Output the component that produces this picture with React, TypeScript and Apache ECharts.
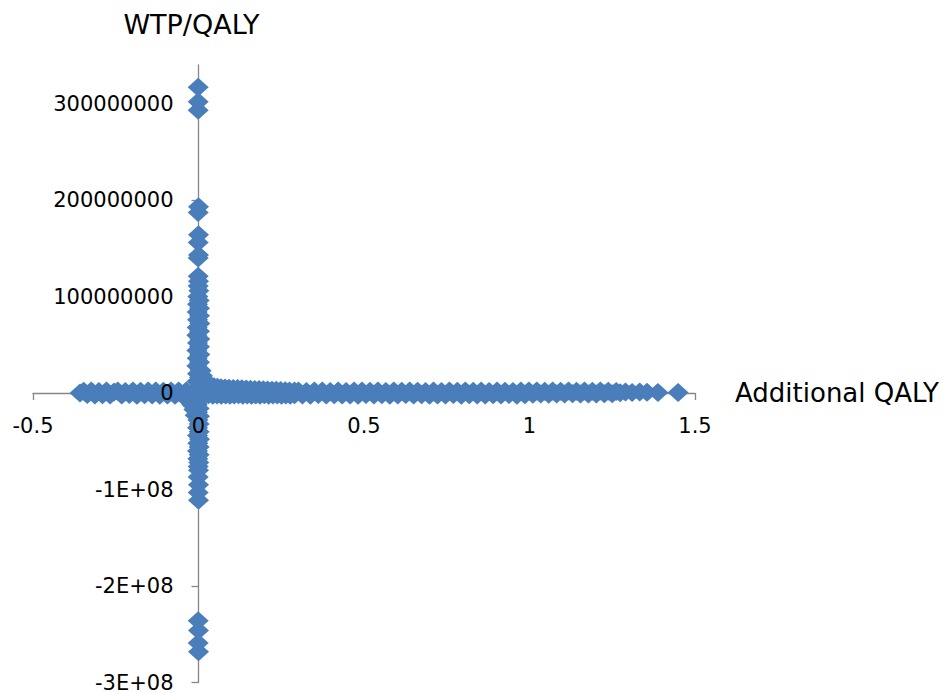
import React, { useEffect, useRef } from "react";
import * as echarts from "echarts";

// Points: [Additional QALY, WTP/QALY in millions]
const leftBand: [number, number][] = [
  [-0.358, 0], [-0.347, 1.8], [-0.336, -1.6], [-0.324, 2.0], [-0.313, -2.0], [-0.301, 1.5], [-0.29, -1.8], [-0.278, 2.1], [-0.267, -1.9], [-0.255, 1.2],
  [-0.244, 2.2], [-0.232, -2.1], [-0.221, 1.7], [-0.209, -1.5], [-0.198, 2.0], [-0.186, -2.2], [-0.175, 1.9], [-0.163, -1.7], [-0.152, 2.2], [-0.14, -2.0],
  [-0.129, 2.1], [-0.117, -2.2], [-0.106, 1.9], [-0.094, -2.1], [-0.083, 2.2], [-0.071, -2.3], [-0.06, 2.1], [-0.048, -2.4], [-0.037, 2.0], [-0.026, -2.5], [-0.015, 2.2],
  [-0.045, -3], [-0.035, -5], [-0.027, -8], [-0.02, -12], [-0.014, -17], [-0.01, -23],
];

const nearRight: [number, number][] = [
  [0.008, 23], [0.012, 18], [0.017, 14], [0.023, 11], [0.03, 9], [0.038, 7.5], [0.047, 6.5], [0.057, 6], [0.068, 5.6], [0.08, 5.3],
  [0.092, 5], [0.105, 4.8], [0.118, 4.6], [0.131, 4.4], [0.144, 4.2], [0.157, 4.0], [0.17, 3.8], [0.183, 3.6], [0.196, 3.4], [0.209, 3.2],
  [0.222, 3.0], [0.235, 2.8], [0.248, 2.6], [0.262, 2.4], [0.275, 2.2], [0.29, 2.1],
  [0.005, -2.0], [0.017, -2.3], [0.03, -1.8], [0.043, -2.4], [0.056, -2.0], [0.069, -2.3], [0.082, -1.9], [0.095, -2.4], [0.108, -2.1], [0.121, -1.8],
  [0.134, -2.3], [0.147, -2.0], [0.16, -2.4], [0.173, -1.9], [0.186, -2.2], [0.199, -1.8], [0.212, -2.4], [0.225, -2.1], [0.238, -1.9], [0.251, -2.3],
  [0.264, -2.0], [0.277, -2.2], [0.29, -1.8],
];

const rightBand: [number, number][] = [
  [0.302, 2.0], [0.314, -1.9], [0.326, 1.7], [0.338, -2.2], [0.35, 2.1], [0.362, -1.6], [0.374, 2.2], [0.386, -2.0], [0.398, 1.5], [0.41, -1.8],
  [0.422, 2.1], [0.434, -2.1], [0.446, 1.7], [0.458, -1.9], [0.47, 2.0], [0.482, -2.3], [0.494, 2.1], [0.506, -1.5], [0.518, 1.9], [0.53, -2.0],
  [0.542, 2.2], [0.554, -1.7], [0.566, 1.6], [0.578, -2.2], [0.59, 2.0], [0.602, -1.9], [0.614, 1.8], [0.626, -1.6], [0.638, 2.1], [0.65, -2.1],
  [0.662, 1.9], [0.674, -1.8], [0.686, 1.5], [0.698, -2.3], [0.71, 2.0], [0.722, -1.9], [0.734, 1.7], [0.746, -2.0], [0.758, 2.2], [0.77, -1.6],
  [0.782, 1.9], [0.794, -2.2], [0.806, 2.0], [0.818, -1.7], [0.83, 1.8], [0.842, -2.1], [0.854, 2.1], [0.866, -1.9], [0.878, 1.6], [0.89, -1.8],
  [0.902, 2.0], [0.914, -2.0], [0.926, 1.9], [0.938, -1.5], [0.95, 1.7], [0.962, -2.2], [0.974, 2.2], [0.986, -1.8], [0.998, 2.0], [1.01, -1.2],
  [1.022, 2.1], [1.034, -1.0], [1.046, 1.9], [1.058, -1.2], [1.07, 2.2], [1.082, -0.9], [1.094, 1.8], [1.106, -1.1], [1.118, 2.0], [1.13, -0.8],
  [1.142, 1.9], [1.154, -1.0], [1.166, 2.1], [1.178, -0.9], [1.19, 1.8], [1.202, -1.1], [1.214, 2.0], [1.226, -0.8], [1.238, 1.9], [1.25, -0.6],
  [1.262, 1.6], [1.274, 0.4], [1.29, 1.2], [1.31, 0.5], [1.333, 1.0], [1.355, 0.7], [1.388, 0.6], [1.449, 0.6],
];

const upperBand: [number, number][] = [
  [-0.004, 4], [0.004, 8], [-0.005, 12], [0.003, 16], [-0.003, 20], [0.005, 24], [-0.005, 28], [0.003, 32], [-0.004, 36], [0.004, 40],
  [-0.005, 44], [0.003, 48], [-0.003, 52], [0.004, 56], [-0.005, 60], [0.003, 64], [-0.004, 68], [0.004, 72], [-0.003, 76], [0.003, 80],
  [-0.004, 84], [0.003, 88], [-0.003, 92], [0.002, 96], [-0.002, 100], [0.001, 106], [-0.001, 111], [0.0, 116], [-0.001, 121],
  [-0.001, 140], [0.0, 143], [-0.001, 156], [0.0, 164], [-0.001, 187], [0.0, 193],
  [-0.001, 293], [-0.001, 302], [-0.001, 317],
];

const lowerBand: [number, number][] = [
  [-0.003, -4], [0.003, -8], [-0.004, -12], [0.002, -16], [-0.003, -20], [0.003, -24], [-0.002, -28], [0.002, -32], [-0.003, -36], [0.002, -40],
  [-0.003, -44], [0.003, -48], [-0.002, -52], [0.002, -56], [-0.003, -60], [0.002, -64], [-0.002, -68], [0.001, -72], [-0.001, -76],
  [0.0, -80], [-0.001, -87], [0.0, -95], [-0.001, -103], [0.0, -111],
  [-0.001, -236], [0.0, -246], [-0.001, -259], [0.0, -268],
];

const xTicks = [-0.5, 0, 0.5, 1, 1.5];
const yTicks = [-3e8, -2e8, -1e8, 0, 1e8, 2e8, 3e8];

const FONT = "DejaVu Sans";
const BLUE = "#4A7EBB";
const AXIS = "#868686";

const X_MIN = -0.5, X_MAX = 1.5, Y_MIN = -3e8, Y_MAX = 3.4e8;
const G_LEFT = 33, G_RIGHT = 253, G_TOP = 65, G_BOTTOM = 10.5, W = 948, H = 693;

function yFmt(v: number) {
  if (v < 0) return `${v / 1e8}E+08`;
  return String(v);
}

export default function App() {
  const ref = useRef<HTMLDivElement>(null);
  useEffect(() => {
    if (!ref.current) return;
    const chart = echarts.init(ref.current, undefined, { renderer: "svg" });
    const data = [...leftBand, ...nearRight, ...rightBand, ...upperBand, ...lowerBand].map(([x, y]) => [x, y * 1e6]);
    const gw = W - G_LEFT - G_RIGHT;
    const gh = H - G_TOP - G_BOTTOM;
    // offsets that bring the label-only axes onto the zero lines
    const xOff = -(gh * (0 - Y_MIN)) / (Y_MAX - Y_MIN);
    const yOff = -(gw * (0 - X_MIN)) / (X_MAX - X_MIN);
    const xBase = { type: "value", min: X_MIN, max: X_MAX, interval: 0.5, splitLine: { show: false } };
    const yBase = { type: "value", min: Y_MIN, max: Y_MAX, interval: 1e8, splitLine: { show: false } };
    chart.setOption({
      animation: false,
      grid: { left: G_LEFT, right: G_RIGHT, top: G_TOP, bottom: G_BOTTOM, containLabel: false, outerBoundsMode: "none" },
      xAxis: [
        {
          ...xBase,
          z: 0,
          axisLine: { show: true, onZero: true, lineStyle: { color: AXIS, width: 1.3 } },
          axisTick: { show: true, length: 7, lineStyle: { color: AXIS, width: 1.3 }, customValues: xTicks },
          axisLabel: { show: false },
          name: "Additional QALY",
          nameLocation: "end",
          nameGap: 40,
          nameTextStyle: { fontFamily: FONT, fontSize: 26, color: "#000", verticalAlign: "middle" },
        },
        {
          ...xBase,
          z: 10,
          position: "bottom",
          offset: xOff,
          axisLine: { show: false, onZero: false },
          axisTick: { show: false },
          axisLabel: { show: true, margin: 22, fontFamily: FONT, fontSize: 21, color: "#000", customValues: xTicks, formatter: (v: number) => String(v) },
        },
      ],
      yAxis: [
        {
          ...yBase,
          z: 0,
          axisLine: { show: true, onZero: true, lineStyle: { color: AXIS, width: 1.3 } },
          axisTick: { show: true, length: 7, lineStyle: { color: AXIS, width: 1.3 }, customValues: yTicks },
          axisLabel: { show: false },
          name: "WTP/QALY",
          nameLocation: "end",
          nameGap: 27,
          nameTextStyle: { fontFamily: FONT, fontSize: 27, color: "#000", padding: [0, 14, 0, 0] },
        },
        {
          ...yBase,
          z: 10,
          position: "left",
          offset: yOff,
          axisLine: { show: false, onZero: false },
          axisTick: { show: false },
          axisLabel: {
            show: true, margin: 25, fontFamily: FONT, fontSize: 21, color: "#000", customValues: yTicks,
            formatter: (v: number) => (Math.abs(v % 1e8) < 1 ? yFmt(v) : ""),
          },
        },
      ],
      series: [
        {
          type: "scatter",
          xAxisIndex: 0,
          yAxisIndex: 0,
          symbol: "diamond",
          symbolSize: [21, 19],
          itemStyle: { color: BLUE, opacity: 1 },
          emphasis: { disabled: true },
          data,
          z: 2,
        },
      ],
    });
    return () => chart.dispose();
  }, []);
  return <div ref={ref} style={{ width: W, height: H, position: "absolute", left: 0, top: 0 }} />;
}
